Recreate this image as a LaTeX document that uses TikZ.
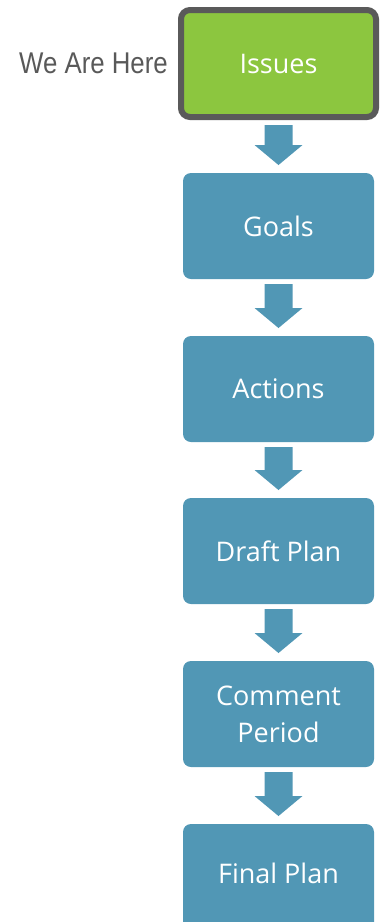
\documentclass[tikz,border=0pt]{standalone}
\usepackage{fontspec}
\setmainfont{Open Sans}
\newfontfamily\narrowfont[FakeStretch=0.86]{Liberation Sans}
\usetikzlibrary{calc}
\definecolor{stepblue}{HTML}{5197B5}
\definecolor{stepgreen}{HTML}{8CC63F}
\definecolor{bordergray}{HTML}{5A5A5A}
\definecolor{labelgray}{HTML}{595959}
\tikzset{
  stepbox/.style={fill=stepblue, rounded corners=8pt, minimum width=191pt,
    minimum height=106pt, text=white, font=\fontsize{27}{37}\selectfont,
    align=center, inner sep=0pt, outer sep=0pt},
  currentbox/.style={stepbox, fill=stepgreen, draw=bordergray, line width=6pt,
    minimum width=195pt, minimum height=107pt, rounded corners=9pt, outer sep=3pt},
  herelabel/.style={text=labelgray, font=\narrowfont\fontsize{30}{34}\selectfont,
    inner sep=0pt, anchor=east},
}
\newcommand{\flowarrow}[2]{%
  \fill[stepblue] ($(#1.south)+(-14,5)$) -- ($(#1.south)+(14,5)$)
    -- ($(#2.north)+(14,-28)$) -- ($(#2.north)+(24,-28)$)
    -- ($(#2.north)+(0,-8)$) -- ($(#2.north)+(-24,-28)$)
    -- ($(#2.north)+(-14,-28)$) -- cycle;}
\begin{document}
\begin{tikzpicture}[x=1pt,y=-1pt]
\useasboundingbox (0,0) rectangle (382,922);
\clip (0,0) rectangle (382,922);
\node[currentbox] (issues) at (278.5,63.5) {Issues};
\node[herelabel] (here) at ($(issues.west)+(-10,0)$) {We Are Here};
\node[stepbox] (goals) at (278.5,226) {Goals};
\node[stepbox] (actions) at (278.5,389) {Actions};
\node[stepbox] (draft) at (278.5,551) {Draft Plan};
\node[stepbox] (comment) at (278.5,714) {Comment\\Period};
\node[stepbox, text depth=8pt] (final) at (278.5,877) {Final Plan};
\flowarrow{issues}{goals}
\flowarrow{goals}{actions}
\flowarrow{actions}{draft}
\flowarrow{draft}{comment}
\flowarrow{comment}{final}
\end{tikzpicture}
\end{document}
